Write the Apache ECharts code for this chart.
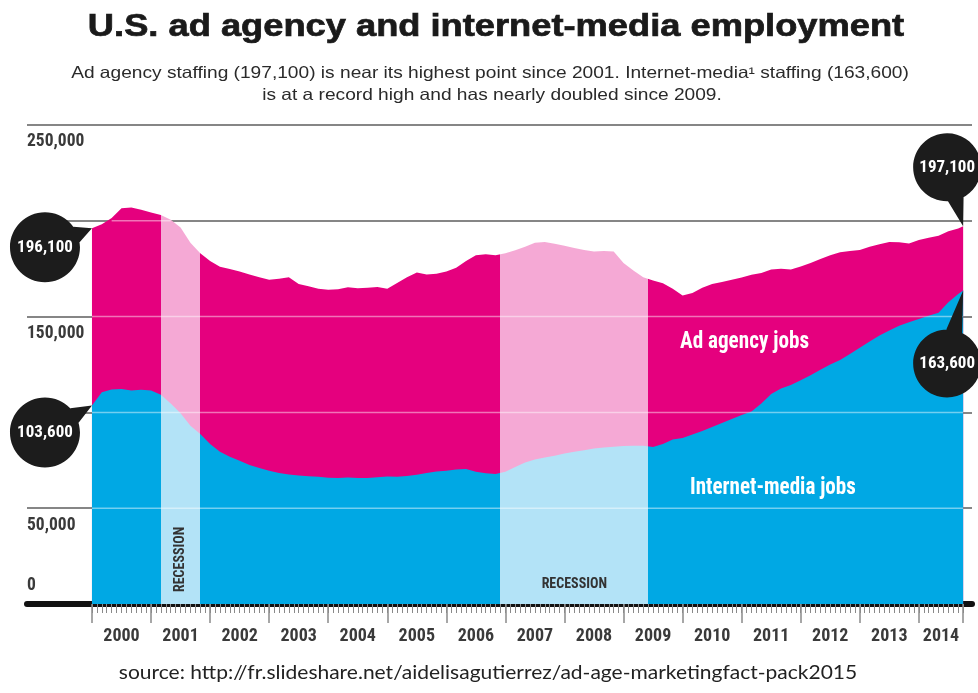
<!DOCTYPE html>
<html>
<head>
<meta charset="utf-8">
<script src="https://cdn.jsdelivr.net/npm/echarts@6/dist/echarts.min.js"></script>
<style>
  html, body { margin: 0; padding: 0; background: #fff; }
  #chart { width: 978px; height: 693px; }
</style>
</head>
<body>
<div id="chart"></div>
<script>
// Sample months (every second month, plus the latest month)
const months = [
  '2000-01','2000-03','2000-05','2000-07','2000-09','2000-11',
  '2001-01','2001-03','2001-05','2001-07','2001-09','2001-11',
  '2002-01','2002-03','2002-05','2002-07','2002-09','2002-11',
  '2003-01','2003-03','2003-05','2003-07','2003-09','2003-11',
  '2004-01','2004-03','2004-05','2004-07','2004-09','2004-11',
  '2005-01','2005-03','2005-05','2005-07','2005-09','2005-11',
  '2006-01','2006-03','2006-05','2006-07','2006-09','2006-11',
  '2007-01','2007-03','2007-05','2007-07','2007-09','2007-11',
  '2008-01','2008-03','2008-05','2008-07','2008-09','2008-11',
  '2009-01','2009-03','2009-05','2009-07','2009-09','2009-11',
  '2010-01','2010-03','2010-05','2010-07','2010-09','2010-11',
  '2011-01','2011-03','2011-05','2011-07','2011-09','2011-11',
  '2012-01','2012-03','2012-05','2012-07','2012-09','2012-11',
  '2013-01','2013-03','2013-05','2013-07','2013-09','2013-11',
  '2014-01','2014-03','2014-05','2014-07','2014-09','2014-10'
];

// Ad agency employment
const adAgencyJobs = [
  196100, 198200, 201500, 206500, 207000, 205800,
  204300, 203000, 200500, 196500, 188500, 183000,
  179000, 176000, 174800, 173600, 172000, 170500,
  169200, 169800, 170500, 167000, 165800, 164600,
  164000, 164300, 165300, 164800, 165000, 165400,
  164600, 167500, 170500, 173000, 172000, 172300,
  173500, 175500, 179000, 182000, 182500, 182000,
  183000, 184600, 186500, 188500, 189000, 188000,
  187000, 185800, 184700, 184000, 184200, 184000,
  178000, 174000, 170500, 168800, 167400, 164500,
  161000, 162300, 165000, 167000, 168000, 169200,
  170400, 171800, 172800, 174600, 175000, 174600,
  176200, 178000, 180000, 182000, 183600, 184200,
  184700, 186500, 187800, 189000, 188800, 188200,
  190000, 191200, 192200, 194500, 196000, 197100
];

// Internet-media employment
const internetMediaJobs = [
  103600, 110500, 112000, 112200, 111400, 111800,
  111400, 109200, 104600, 99500, 93000, 88700,
  83500, 79500, 76800, 74800, 72500, 71000,
  69600, 68400, 67600, 67100, 66700, 66400,
  65900, 65700, 66000, 65800, 65800, 66200,
  66500, 66400, 66800, 67500, 68400, 69200,
  69600, 70200, 70400, 69000, 68200, 67800,
  69000, 71500, 73800, 75400, 76400, 77400,
  78600, 79500, 80300, 81200, 81700, 82100,
  82400, 82600, 82600, 82000, 83500, 85800,
  86700, 88500, 90300, 92400, 94500, 96500,
  98600, 100500, 104600, 109600, 112500, 114300,
  116800, 119400, 122200, 125000, 127300, 130500,
  133800, 137000, 140200, 142800, 145200, 147000,
  148800, 150400, 152000, 157500, 161800, 163600
];

// Recession periods shaded on the chart
const recessions = [
  ['2001-03', '2001-11'],
  ['2006-12', '2009-06']
];

const yearLabels = ['2000','2001','2002','2003','2004','2005','2006','2007',
                    '2008','2009','2010','2011','2012','2013','2014'];
const yTickValues = [0, 50000, 100000, 150000, 200000, 250000];
const yLabelledValues = [50000, 150000, 250000];

// ---- helpers ----
const monthIndex = s => (parseInt(s.slice(0, 4), 10) - 2000) * 12 + parseInt(s.slice(5, 7), 10) - 1;
const xs = months.map(monthIndex);
const lastX = xs[xs.length - 1];
const fmt = v => Math.round(v).toLocaleString('en-US');

const MAGENTA = '#e5007e';
const PINK = '#f5a9d5';
const BLUE = '#00a8e4';
const LIGHTBLUE = '#b3e3f7';
const NARROW = "'Roboto Condensed', 'DejaVu Sans Condensed', 'Arial Narrow', sans-serif";

const recIdx = recessions.map(r => [monthIndex(r[0]), monthIndex(r[1])]);

function sectionPieces(base, light) {
  const pieces = [];
  let from = null;
  recIdx.forEach(([a, b]) => {
    pieces.push(from === null ? { lt: a, color: base } : { gte: from, lt: a, color: base });
    pieces.push({ gte: a, lt: b, color: light });
    from = b;
  });
  pieces.push({ gte: from, color: base });
  return pieces;
}

// Speech-bubble symbol: circle of radius r whose tail tip sits at the data point.
// (dx, dy) is the circle centre relative to that point. A zero-length segment
// mirrors the tip so that the symbol box stays centred on the circle.
function bubble(dx, dy, r) {
  const tx = -dx, ty = -dy;
  const th = Math.atan2(ty, tx), a = 0.24;
  let p1 = [r * Math.cos(th - a), r * Math.sin(th - a)];
  let p2 = [r * Math.cos(th + a), r * Math.sin(th + a)];
  const cross = (p1[0] - tx) * (p2[1] - ty) - (p2[0] - tx) * (p1[1] - ty);
  if (cross < 0) { const t = p1; p1 = p2; p2 = t; }
  const f = n => n.toFixed(2);
  const k = 0.5523 * r;
  const circle =
    ' M' + r + ' 0' +
    ' C' + r + ' ' + f(k) + ' ' + f(k) + ' ' + r + ' 0 ' + r +
    ' C' + f(-k) + ' ' + r + ' ' + (-r) + ' ' + f(k) + ' ' + (-r) + ' 0' +
    ' C' + (-r) + ' ' + f(-k) + ' ' + f(-k) + ' ' + (-r) + ' 0 ' + (-r) +
    ' C' + f(k) + ' ' + (-r) + ' ' + r + ' ' + f(-k) + ' ' + r + ' 0 Z';
  const path = 'path://M' + f(-tx) + ' ' + f(-ty) + ' L' + f(-tx) + ' ' + f(-ty) +
    ' M' + f(tx) + ' ' + f(ty) + ' L' + f(p1[0]) + ' ' + f(p1[1]) +
    ' L' + f(p2[0]) + ' ' + f(p2[1]) + ' Z' + circle;
  return {
    symbol: path,
    symbolSize: [2 * Math.max(r, Math.abs(tx)), 2 * Math.max(r, Math.abs(ty))],
    symbolOffset: [dx, dy],
    symbolKeepAspect: false
  };
}

const bubbleLabel = {
  show: true,
  position: 'inside',
  color: '#fff',
  fontFamily: NARROW,
  fontWeight: 'bold',
  fontSize: 17,
  formatter: p => fmt(p.value)
};

// Light guide lines drawn across the filled area
const guideSeries = yTickValues.filter(v => v > 0 && v < 250000).map(v => ({
  type: 'line',
  silent: true,
  symbol: 'none',
  xAxisIndex: 0,
  yAxisIndex: 0,
  lineStyle: { color: 'rgba(255,255,255,0.45)', width: 1.5 },
  data: xs.map((x, i) => [x, adAgencyJobs[i] >= v ? v : null]),
  z: 4
}));

const yearCenters = yearLabels.map((y, i) => i < yearLabels.length - 1 ? i * 12 + 6 : (i * 12 + lastX) / 2);
const yearTicks = yearLabels.map((y, i) => i * 12).concat([lastX]);
const monthTicks = [];
for (let m = 0; m <= lastX; m++) monthTicks.push(m);

const X_MIN = -13.2, X_MAX = 178.8;
const AXIS_TEXT = '#3a3a3a';

const chart = echarts.init(document.getElementById('chart'), null, { renderer: 'canvas' });

chart.setOption({
  animation: false,
  backgroundColor: '#ffffff',
  grid: { left: 27, right: 6, top: 125, bottom: 89, containLabel: false },
  xAxis: [
    {
      type: 'value', min: X_MIN, max: X_MAX, position: 'bottom',
      axisLine: { show: true, lineStyle: { color: '#111', width: 6 } },
      axisTick: { show: true, customValues: monthTicks, length: 9, lineStyle: { color: '#8a8a8a', width: 1 } },
      axisLabel: {
        show: true, customValues: yearCenters, margin: 23,
        fontFamily: NARROW, fontWeight: 'bold', fontSize: 18, color: AXIS_TEXT,
        formatter: v => yearLabels[yearCenters.indexOf(v)] || ''
      },
      splitLine: { show: false }
    },
    {
      type: 'value', min: X_MIN, max: X_MAX, position: 'bottom',
      axisLine: { show: false },
      axisTick: { show: true, customValues: yearTicks, length: 19, lineStyle: { color: '#8a8a8a', width: 1.5 } },
      axisLabel: { show: false },
      splitLine: { show: false }
    }
  ],
  yAxis: [
    {
      type: 'value', min: 0, max: 250000, interval: 50000, position: 'left',
      axisLine: { show: false }, axisTick: { show: false },
      splitLine: { show: true, lineStyle: { color: '#5e5e5e', width: 1.5 } },
      axisLabel: {
        inside: true, margin: 0, verticalAlign: 'top', padding: [8, 0, 0, 0],
        fontFamily: NARROW, fontWeight: 'bold', fontSize: 17.5, color: AXIS_TEXT,
        formatter: v => yLabelledValues.indexOf(v) >= 0 ? fmt(v) : ''
      }
    },
    {
      type: 'value', min: 0, max: 250000, interval: 50000, position: 'left',
      axisLine: { show: false }, axisTick: { show: false }, splitLine: { show: false },
      axisLabel: {
        inside: true, margin: 0, verticalAlign: 'bottom', padding: [0, 0, 9, 0],
        fontFamily: NARROW, fontWeight: 'bold', fontSize: 17.5, color: AXIS_TEXT,
        formatter: v => v === 0 ? '0' : ''
      }
    }
  ],
  visualMap: [
    { type: 'piecewise', show: false, dimension: 0, seriesIndex: 0, pieces: sectionPieces(MAGENTA, PINK) },
    { type: 'piecewise', show: false, dimension: 0, seriesIndex: 1, pieces: sectionPieces(BLUE, LIGHTBLUE) }
  ],
  series: [
    {
      name: 'Ad agency jobs',
      type: 'line',
      xAxisIndex: 0, yAxisIndex: 0,
      symbol: 'none',
      lineStyle: { width: 0 },
      areaStyle: { opacity: 1 },
      data: xs.map((x, i) => [x, adAgencyJobs[i]]),
      markPoint: {
        z: 10,
        label: bubbleLabel,
        itemStyle: { color: '#1c1c1c' },
        data: [
          Object.assign({ coord: [xs[0], adAgencyJobs[0]], value: adAgencyJobs[0] }, bubble(-47, 19, 35)),
          Object.assign({ coord: [lastX, adAgencyJobs[adAgencyJobs.length - 1]], value: adAgencyJobs[adAgencyJobs.length - 1] }, bubble(-16, -59, 34))
        ]
      }
    },
    {
      name: 'Internet-media jobs',
      type: 'line',
      xAxisIndex: 0, yAxisIndex: 0,
      symbol: 'none',
      lineStyle: { width: 0 },
      areaStyle: { opacity: 1 },
      data: xs.map((x, i) => [x, internetMediaJobs[i]]),
      markPoint: {
        z: 10,
        label: bubbleLabel,
        itemStyle: { color: '#1c1c1c' },
        data: [
          Object.assign({ coord: [xs[0], internetMediaJobs[0]], value: internetMediaJobs[0] }, bubble(-47, 27, 35)),
          Object.assign({ coord: [lastX, internetMediaJobs[internetMediaJobs.length - 1]], value: internetMediaJobs[internetMediaJobs.length - 1] }, bubble(-16, 73, 34))
        ]
      },
      markArea: {
        z: 8,
        silent: true,
        itemStyle: { color: 'rgba(0,0,0,0)' },
        label: {
          show: true, position: 'insideBottom', color: '#333',
          fontFamily: NARROW, fontWeight: 'bold', fontSize: 14
        },
        data: recIdx.map(([a, b], i) => [
          i === 0
            ? { xAxis: a, name: 'RECESSION', label: { rotate: 90, align: 'left', verticalAlign: 'middle', distance: 12 } }
            : { xAxis: a, name: 'RECESSION', label: { distance: 13 } },
          { xAxis: b }
        ])
      }
    }
  ].concat(guideSeries),
  graphic: [
    {
      type: 'text', x: 496, y: 27, scaleX: 1.17, z: 20,
      style: {
        text: 'U.S. ad agency and internet-media employment',
        fill: '#1a1a1a', stroke: '#1a1a1a', lineWidth: 0.7,
        font: "bold 31px 'Liberation Sans', Arial, sans-serif",
        textAlign: 'center', textVerticalAlign: 'middle'
      }
    },
    {
      type: 'text', x: 490, y: 73, scaleX: 1.16, z: 20,
      style: {
        text: 'Ad agency staffing (197,100) is near its highest point since 2001. Internet-media\u00b9 staffing (163,600)',
        fill: '#2a2a2a', font: "16.5px 'Liberation Sans', Arial, sans-serif",
        textAlign: 'center', textVerticalAlign: 'middle'
      }
    },
    {
      type: 'text', x: 492, y: 95, scaleX: 1.16, z: 20,
      style: {
        text: 'is at a record high and has nearly doubled since 2009.',
        fill: '#2a2a2a', font: "16.5px 'Liberation Sans', Arial, sans-serif",
        textAlign: 'center', textVerticalAlign: 'middle'
      }
    },
    {
      type: 'text', x: 488, y: 673, scaleX: 1.05, z: 20,
      style: {
        text: 'source: http://fr.slideshare.net/aidelisagutierrez/ad-age-marketingfact-pack2015',
        fill: '#222', font: "20px Lato, 'Open Sans', sans-serif",
        textAlign: 'center', textVerticalAlign: 'middle'
      }
    },
    {
      type: 'text', x: 680, y: 342, scaleX: 0.92, z: 20,
      style: { text: 'Ad agency jobs', fill: '#fff', font: 'bold 23px ' + NARROW, textAlign: 'left', textVerticalAlign: 'middle' }
    },
    {
      type: 'text', x: 690, y: 488, scaleX: 0.915, z: 20,
      style: { text: 'Internet-media jobs', fill: '#fff', font: 'bold 23px ' + NARROW, textAlign: 'left', textVerticalAlign: 'middle' }
    }
  ]
});
</script>
</body>
</html>
